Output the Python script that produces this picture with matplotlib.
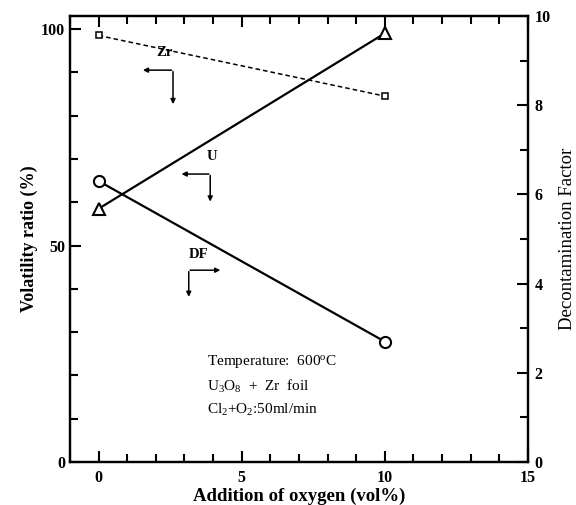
import matplotlib
matplotlib.use('Agg')
import matplotlib.pyplot as plt
from matplotlib.ticker import MultipleLocator

oxygen = [0, 10]
zr_vol = [98.5, 84.5]
u_vol = [58.5, 99.0]
df_vals = [6.3, 2.7]

plt.rcParams['font.family'] = ['Liberation Serif', 'DejaVu Serif']
plt.rcParams['mathtext.fontset'] = 'custom'
plt.rcParams['mathtext.rm'] = 'Liberation Serif'
plt.rcParams['mathtext.it'] = 'Liberation Serif:italic'
plt.rcParams['mathtext.bf'] = 'Liberation Serif:bold'


def main():
    fig = plt.figure(figsize=(5.76, 5.05), dpi=100)
    ax = fig.add_axes([0.1215, 0.0851, 0.795, 0.8832])
    ax2 = ax.twinx()

    ax.plot(oxygen, zr_vol, color='black', ls=(0, (3, 2)), lw=1.1,
            marker='s', ms=5, mfc='white', mec='black', mew=1.1)
    ax.plot(oxygen, u_vol, color='black', lw=1.6,
            marker='^', ms=9, mfc='white', mec='black', mew=1.5)
    ax2.plot(oxygen, df_vals, color='black', lw=1.6,
             marker='o', ms=8, mfc='white', mec='black', mew=1.5)

    ax.set_xlim(-1, 15)
    ax.set_ylim(0, 103)
    ax2.set_ylim(0, 10)

    ax.set_xticks([0, 5, 10, 15])
    ax.xaxis.set_minor_locator(MultipleLocator(1))
    ax.set_yticks([0, 50, 100])
    ax.yaxis.set_minor_locator(MultipleLocator(10))
    ax2.set_yticks([0, 2, 4, 6, 8, 10])
    ax2.yaxis.set_minor_locator(MultipleLocator(1))

    ax.tick_params(which='both', direction='in', top=True, width=1.5, labelsize=11.5)
    ax.tick_params(which='major', length=8)
    ax.tick_params(which='minor', length=6)
    ax.tick_params(axis='x', pad=6)
    ax2.tick_params(which='both', direction='in', width=1.5, labelsize=11.5, pad=5)
    ax2.tick_params(which='major', length=8)
    ax2.tick_params(which='minor', length=6)
    for a in (ax, ax2):
        for s in a.spines.values():
            s.set_linewidth(1.6)
        for lbl in a.get_xticklabels() + a.get_yticklabels():
            lbl.set_fontweight('bold')

    ax.set_xlabel('Addition of oxygen (vol%)', fontsize=13.5, fontweight='bold', labelpad=1)
    ax.set_ylabel('Volatility ratio (%)', fontsize=13, fontweight='bold', labelpad=2)
    ax2.set_ylabel('Decontamination Factor', fontsize=13.5, labelpad=6)

    arr = dict(arrowstyle='-|>', color='black', lw=1.1, mutation_scale=7)
    # Zr -> left axis
    ax.annotate('', xy=(1.45, 90.5), xytext=(2.65, 90.5), arrowprops=arr)
    ax.annotate('', xy=(2.6, 82.0), xytext=(2.6, 90.8), arrowprops=arr)
    ax.text(2.3, 93, 'Zr', fontsize=10.5, fontweight='bold', ha='center', va='bottom')
    # U -> left axis
    ax.annotate('', xy=(2.8, 66.5), xytext=(3.95, 66.5), arrowprops=arr)
    ax.annotate('', xy=(3.9, 59.5), xytext=(3.9, 66.8), arrowprops=arr)
    ax.text(3.95, 69, 'U', fontsize=10.5, fontweight='bold', ha='center', va='bottom')
    # DF -> right axis
    ax.annotate('', xy=(4.35, 44.3), xytext=(3.1, 44.3), arrowprops=arr)
    ax.annotate('', xy=(3.15, 37.5), xytext=(3.15, 44.6), arrowprops=arr)
    ax.text(3.5, 46.5, 'DF', fontsize=10.5, fontweight='bold', ha='center', va='bottom')

    ax.text(3.8, 22.5, 'Temperature:  600$^{\\rm o}$C', fontsize=11)
    ax.text(3.8, 16.5, 'U$_3$O$_8$  +  Zr  foil', fontsize=11)
    ax.text(3.8, 11.0, 'Cl$_2$+O$_2$:50ml/min', fontsize=11)

    fig.savefig('out.png', dpi=100)


if __name__ == '__main__':
    main()
